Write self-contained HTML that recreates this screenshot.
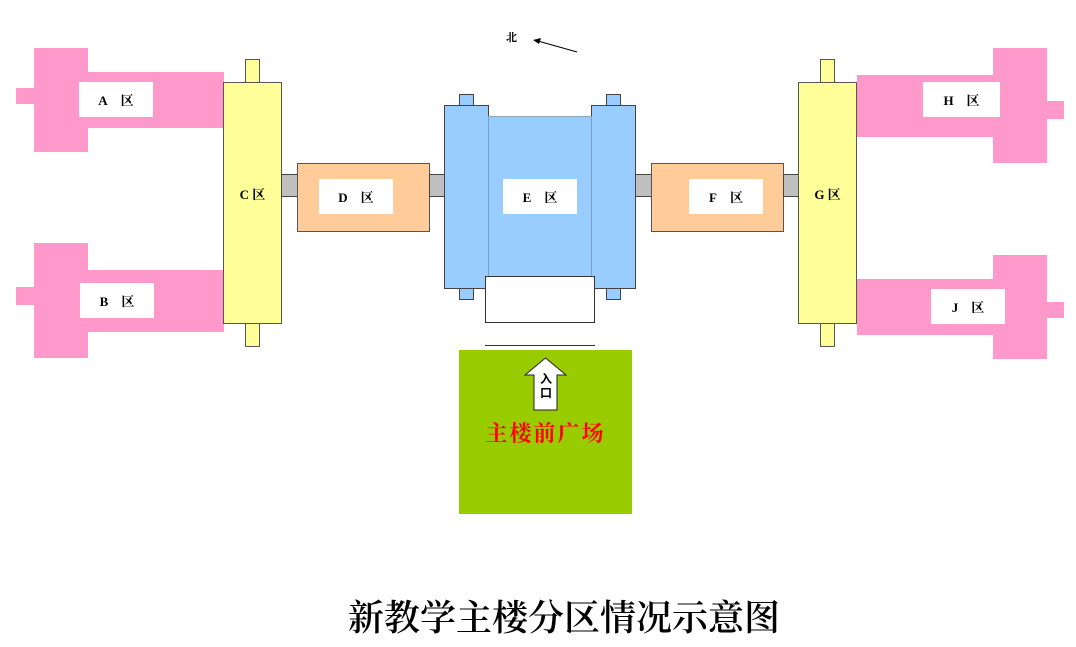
<!DOCTYPE html>
<html><head><meta charset="utf-8"><style>
body{margin:0;width:1076px;height:647px;background:#fff;position:relative;overflow:hidden;font-family:"Liberation Serif","Noto Serif CJK SC",serif}
div{position:absolute;box-sizing:border-box}
.p{background:#ff99cc}
.y{background:#ffff99;border:1px solid #555}
.o{background:#ffcc99;border:1px solid #555}
.g{background:#c0c0c0;border:1px solid #444}
.b{background:#99ccff;border:1px solid #444}
.w{background:#fff;font-weight:bold;font-size:13px;display:flex;align-items:center;justify-content:center}
</style></head><body>
<!-- A -->
<div class="p" style="left:16px;top:88px;width:20px;height:16px"></div>
<div class="p" style="left:34px;top:48px;width:54px;height:104px"></div>
<div class="p" style="left:86px;top:72px;width:138px;height:56px"></div>
<div class="w" style="left:79px;top:82px;width:74px;height:35px">A&nbsp;&nbsp;&nbsp;&nbsp;区</div>
<!-- B -->
<div class="p" style="left:16px;top:287px;width:20px;height:18px"></div>
<div class="p" style="left:34px;top:243px;width:54px;height:115px"></div>
<div class="p" style="left:86px;top:270px;width:138px;height:62px"></div>
<div class="w" style="left:80px;top:283px;width:74px;height:35px">B&nbsp;&nbsp;&nbsp;&nbsp;区</div>
<!-- C -->
<div class="y" style="left:245px;top:59px;width:15px;height:25px"></div>
<div class="y" style="left:245px;top:322px;width:15px;height:25px"></div>
<div class="y w" style="left:223px;top:82px;width:59px;height:242px;background:#ffff99;padding-bottom:20px">C 区</div>
<!-- D -->
<div class="g" style="left:281px;top:174px;width:17px;height:23px"></div>
<div class="o" style="left:297px;top:163px;width:133px;height:69px"></div>
<div class="w" style="left:319px;top:179px;width:74px;height:35px">D&nbsp;&nbsp;&nbsp;&nbsp;区</div>
<div class="g" style="left:429px;top:174px;width:16px;height:23px"></div>
<!-- E -->
<div class="b" style="left:459px;top:94px;width:15px;height:12px"></div>
<div class="b" style="left:606px;top:94px;width:15px;height:12px"></div>
<div class="b" style="left:459px;top:288px;width:15px;height:12px"></div>
<div class="b" style="left:606px;top:288px;width:15px;height:12px"></div>
<div class="b" style="left:444px;top:105px;width:45px;height:184px"></div>
<div class="b" style="left:591px;top:105px;width:45px;height:184px"></div>
<div style="left:488px;top:116px;width:104px;height:162px;background:#99ccff;border-top:1px solid #8ab;border-left:1px solid #7a9ec8;border-right:1px solid #7a9ec8"></div>
<div class="w" style="left:503px;top:179px;width:74px;height:35px">E&nbsp;&nbsp;&nbsp;&nbsp;区</div>
<div style="left:485px;top:276px;width:110px;height:47px;background:#fff;border:1px solid #333"></div>
<div style="left:485px;top:345px;width:110px;height:1px;background:#333"></div>
<!-- F -->
<div class="g" style="left:635px;top:174px;width:17px;height:23px"></div>
<div class="o" style="left:651px;top:163px;width:133px;height:69px"></div>
<div class="w" style="left:689px;top:179px;width:74px;height:35px">F&nbsp;&nbsp;&nbsp;&nbsp;区</div>
<div class="g" style="left:783px;top:174px;width:16px;height:23px"></div>
<!-- G -->
<div class="y" style="left:820px;top:59px;width:15px;height:25px"></div>
<div class="y" style="left:820px;top:322px;width:15px;height:25px"></div>
<div class="y w" style="left:798px;top:82px;width:59px;height:242px;background:#ffff99;padding-bottom:20px">G 区</div>
<!-- H -->
<div class="p" style="left:857px;top:75px;width:138px;height:62px"></div>
<div class="p" style="left:993px;top:48px;width:54px;height:115px"></div>
<div class="p" style="left:1045px;top:101px;width:19px;height:18px"></div>
<div class="w" style="left:923px;top:82px;width:77px;height:35px">H&nbsp;&nbsp;&nbsp;&nbsp;区</div>
<!-- J -->
<div class="p" style="left:857px;top:279px;width:138px;height:56px"></div>
<div class="p" style="left:993px;top:255px;width:54px;height:104px"></div>
<div class="p" style="left:1045px;top:302px;width:19px;height:16px"></div>
<div class="w" style="left:931px;top:289px;width:74px;height:35px">J&nbsp;&nbsp;&nbsp;&nbsp;区</div>
<!-- plaza -->
<div style="left:459px;top:350px;width:173px;height:164px;background:#99cc00"></div>
<svg style="position:absolute;left:0;top:0" width="1076" height="647">
<polygon points="545.5,358 566,375 557,375 557,410 534,410 534,375 525,375" fill="#fff" stroke="#222" stroke-width="1"/>
<line x1="577" y1="52" x2="538" y2="41" stroke="#000" stroke-width="1"/>
<polygon points="533,40 541,38 539,44" fill="#000"/>
</svg>
<div style="left:536px;top:372px;width:20px;font-size:12px;font-weight:bold;line-height:14px;text-align:center;font-family:'Noto Sans CJK SC',sans-serif">入<br>口</div>
<div style="left:459px;top:417px;width:173px;text-align:center;color:#ff0000;font-size:22px;font-weight:bold;letter-spacing:2px">主楼前广场</div>
<div style="left:506px;top:29px;font-size:11px;font-weight:bold">北</div>
<div style="left:0;top:590px;width:1128px;text-align:center;font-size:36px;font-weight:600">新教学主楼分区情况示意图</div>
</body></html>
